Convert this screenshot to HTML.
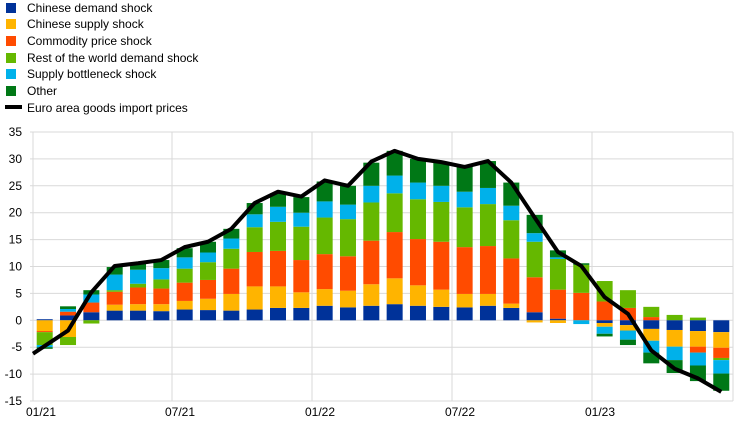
<!DOCTYPE html>
<html><head><meta charset="utf-8"><style>
body{margin:0;background:#fff;width:742px;height:427px;overflow:hidden;font-family:"Liberation Sans",sans-serif}
svg text{font-family:"Liberation Sans",sans-serif;font-size:12px;fill:#000}
</style></head><body>
<svg id="c" width="742" height="427" xmlns="http://www.w3.org/2000/svg">
<g id="legend">
<rect x="6" y="3" width="10" height="10" fill="#003299"/><text x="27" y="12">Chinese demand shock</text>
<rect x="6" y="19" width="10" height="10" fill="#FFB400"/><text x="27" y="28">Chinese supply shock</text>
<rect x="6" y="36" width="10" height="10" fill="#FF4B00"/><text x="27" y="45">Commodity price shock</text>
<rect x="6" y="53" width="10" height="10" fill="#65B800"/><text x="27" y="62">Rest of the world demand shock</text>
<rect x="6" y="69" width="10" height="10" fill="#00B1EA"/><text x="27" y="78">Supply bottleneck shock</text>
<rect x="6" y="86" width="10" height="10" fill="#007816"/><text x="27" y="95">Other</text>
<line x1="5" y1="107" x2="22" y2="107" stroke="#000" stroke-width="4"/><text x="27" y="112">Euro area goods import prices</text>
</g>
<g id="grid"></g>
<g id="bars"></g>
<g id="axis"></g>
</svg>
<script>
var Y0=320.3,K=5.38,X0=44.7,DX=23.33;
function y(v){return Y0-v*K;}
var cols=["#003299","#FFB400","#FF4B00","#65B800","#00B1EA","#007816"];
var P=[
[0.2,0.2,0.2,0.2,0.2,0.2],
[0.9,0.9,1.6,1.6,2.1,2.6],
[1.5,1.5,3.3,3.3,4.8,5.6],
[1.8,2.9,5.3,5.6,8.5,9.9],
[1.8,3.0,6.1,6.8,9.4,10.5],
[1.7,3.0,5.9,7.6,9.7,11.2],
[2.0,3.6,7.0,9.6,11.7,13.4],
[1.9,4.0,7.5,10.8,12.6,14.6],
[1.8,4.9,9.6,13.3,15.2,17.0],
[2.0,6.3,12.7,17.3,19.7,21.8],
[2.3,6.3,12.9,18.3,21.1,23.6],
[2.3,5.2,11.2,17.4,20.0,22.9],
[2.7,5.8,12.3,19.1,22.1,25.8],
[2.4,5.5,11.9,18.8,21.5,25.0],
[2.7,6.7,14.8,21.9,25.0,29.3],
[3.0,7.8,16.4,23.6,26.9,31.5],
[2.7,6.5,15.1,22.5,25.6,30.0],
[2.5,5.7,14.6,22.0,25.0,29.3],
[2.4,4.9,13.6,21.0,23.9,28.5],
[2.7,4.9,13.8,21.6,24.6,29.6],
[2.3,3.1,11.5,18.6,21.3,25.6],
[1.5,1.5,8.0,14.6,16.2,19.6],
[0.3,0.3,5.7,11.4,11.7,13.0],
[0,0,5.1,10.3,10.3,10.6],
[0,0,3.5,7.3,7.3,7.3],
[0,0,2.3,5.6,5.6,5.6],
[0,0,0.6,2.5,2.5,2.5],
[0,0,0,1.0,1.0,1.0],
[0,0,0,0.5,0.5,0.5],
[0,0,0,0,0,0]];
var N=[
[0,-2.0,-2.2,-4.6,-5.0,-5.3],
[0,-3.1,-3.1,-4.6,-4.6,-4.6],
[0,0,0,-0.6,-0.6,-0.6],
[0,0,0,0,0,0],[0,0,0,0,0,0],[0,0,0,0,0,0],[0,0,0,0,0,0],[0,0,0,0,0,0],[0,0,0,0,0,0],[0,0,0,0,0,0],[0,0,0,0,0,0],[0,0,0,0,0,0],[0,0,0,0,0,0],[0,0,0,0,0,0],[0,0,0,0,0,0],[0,0,0,0,0,0],[0,0,0,0,0,0],[0,0,0,0,0,0],[0,0,0,0,0,0],[0,0,0,0,0,0],[0,0,0,0,0,0],
[0,-0.4,-0.4,-0.4,-0.4,-0.4],
[0,-0.5,-0.5,-0.5,-0.5,-0.5],
[0,0,0,0,-0.7,-0.7],
[-0.5,-1.2,-1.2,-1.2,-2.5,-3.0],
[-0.9,-1.9,-1.9,-1.9,-3.6,-4.6],
[-1.6,-3.8,-3.8,-3.8,-6.0,-8.0],
[-1.8,-4.9,-4.9,-4.9,-7.4,-9.8],
[-2.0,-4.9,-6.0,-6.0,-8.4,-11.3],
[-2.2,-5.1,-7.0,-7.4,-9.9,-13.1]];
var L=[-6.2,-1.9,5.2,10.1,10.6,11.2,13.6,14.6,17.0,21.8,23.9,23.0,26.0,25.0,29.5,31.5,30.0,29.4,28.5,29.6,25.6,19.1,12.7,10.1,4.3,1.2,-5.6,-9.0,-10.8,-13.3];
var NS="http://www.w3.org/2000/svg";
function el(t,a,p){var e=document.createElementNS(NS,t);for(var k in a)e.setAttribute(k,a[k]);document.getElementById(p).appendChild(e);return e;}
for(var v=-15;v<=35;v+=5){el("line",{x1:30,x2:733,y1:y(v),y2:y(v),stroke:"#d9d9d9","stroke-width":1},"grid");
 var t=el("text",{x:22,y:y(v)+4,"text-anchor":"end"},"axis");t.textContent=v;}
var xs=[33,172,312,452,592,733];
xs.forEach(function(x){el("line",{x1:x,x2:x,y1:y(35),y2:y(-15),stroke:"#d9d9d9","stroke-width":1},"grid");});
var labs=["01/21","07/21","01/22","07/22","01/23"];
labs.forEach(function(s,i){var t=el("text",{x:xs[i]+8,y:416,"text-anchor":"middle"},"axis");t.textContent=s;});
for(var i=0;i<30;i++){var cx=X0+i*DX,x=cx-8;
 var prev=0;for(var j=0;j<6;j++){var v=P[i][j];if(v>prev){el("rect",{x:x,width:16,y:y(v),height:(v-prev)*K,fill:cols[j]},"bars");}prev=v;}
 prev=0;for(var j=0;j<6;j++){var v=N[i][j];if(v<prev){el("rect",{x:x,width:16,y:y(prev),height:(prev-v)*K,fill:cols[j]},"bars");}prev=v;}
}
var pts=L.map(function(v,i){return (i==0?33:(X0+i*DX))+","+y(v);}).join(" ");
el("polyline",{points:pts,fill:"none",stroke:"#000","stroke-width":4,"stroke-linejoin":"round"},"bars");
</script>
</body></html>
